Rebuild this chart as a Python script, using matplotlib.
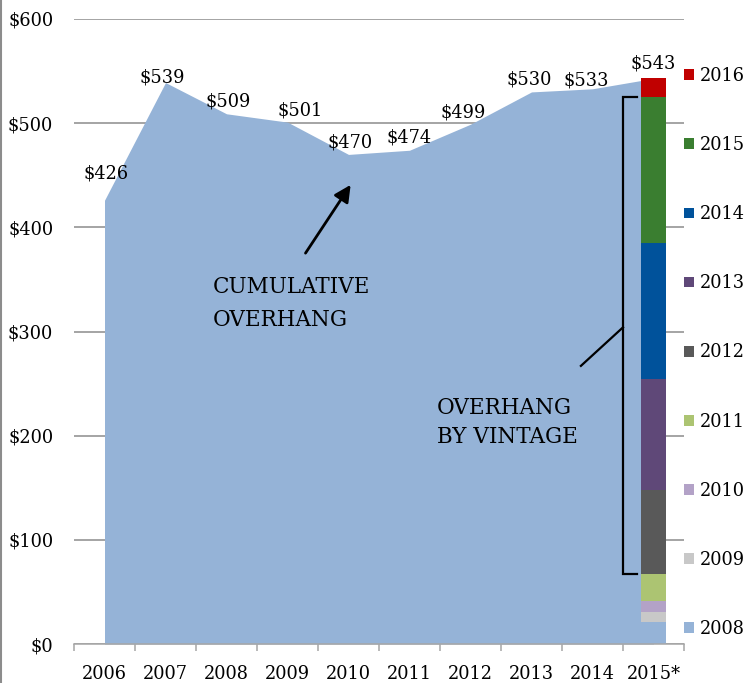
import numpy as np
import matplotlib
matplotlib.use("Agg")
from matplotlib import pyplot as plt
from matplotlib.patches import Patch
from matplotlib.lines import Line2D

years = ['2006', '2007', '2008', '2009', '2010', '2011', '2012', '2013', '2014', '2015*']
overhang = [426, 539, 509, 501, 470, 474, 499, 530, 533, 543]
labels = ['$426', '$539', '$509', '$501', '$470', '$474', '$499', '$530', '$533', '$543']

vintages = ['2008', '2009', '2010', '2011', '2012', '2013', '2014', '2015', '2016']
vintage_vals = [21, 10, 10, 26, 81, 106, 131, 140, 18]
vintage_colors = ['#95B3D7', '#C8C8C8', '#B3A2C7', '#ACC472', '#595959',
                  '#5F4878', '#00529B', '#3A7E30', '#C00000']

# label offsets in pixels (dx, dy) from each point
label_off = [(2, 22), (-3, 0), (2, 7), (13, 7), (2, 7), (0, 8), (-7, 7), (-2, 7), (-6, 3), (0, 10)]

plt.rcParams['font.family'] = 'DejaVu Serif'
fs = 12.8

fig = plt.figure(figsize=(7.5, 6.83), dpi=100)
ax = fig.add_axes([74/750., 39./683, 610/750., 625./683])

x = np.arange(len(years))
ax.fill_between(x, overhang, 0, color='#95B3D7', lw=0, zorder=2)

bottoms = np.concatenate([[0], np.cumsum(vintage_vals)[:-1]])
bars = ax.bar([x[-1]] * len(vintage_vals), vintage_vals, width=0.41, bottom=bottoms,
              color=vintage_colors, lw=0, zorder=3)

for i, (xi, v) in enumerate(zip(x, overhang)):
    top = v if i < len(x) - 1 else sum(vintage_vals)
    ax.annotate(labels[i], (xi, top), xytext=label_off[i], textcoords='offset pixels',
                ha='center', va='baseline', fontsize=fs, zorder=5, annotation_clip=False)

# bracket around 2012-2015 vintages
b_lo = bottoms[4]
b_hi = bottoms[7] + vintage_vals[7]
bx = x[-1] - 0.5
ax.plot([bx + 0.23, bx, bx, bx + 0.23], [b_hi, b_hi, b_lo, b_lo], color='black', lw=1.6,
        zorder=4, solid_joinstyle='miter')
mid = (b_lo + b_hi) / 2. + 8
ax.plot([bx - 0.69, bx], [mid - 37, mid], color='black', lw=1.6, zorder=4)

ax.annotate('', xy=(4.06, 443), xytext=(3.27, 373),
            arrowprops=dict(arrowstyle='-|>,head_length=1.0,head_width=0.5', color='black', lw=2.0),
            zorder=4)

ax.text(1.78, 305, 'CUMULATIVE\nOVERHANG', fontsize=15.5, va='baseline', ha='left',
        linespacing=1.65, zorder=5)
ax.text(5.45, 193, 'OVERHANG\nBY VINTAGE', fontsize=15.5, va='baseline', ha='left',
        linespacing=1.43, zorder=5)

ax.set_xlim(-0.5, len(years) - 0.5)
ax.set_ylim(0, 600)
ax.set_yticks(range(0, 601, 100))
ax.set_yticklabels(['$%d' % v for v in range(0, 601, 100)], fontsize=fs)
ax.set_xticks(x)
ax.set_xticklabels(years, fontsize=fs)
ax.set_xticks(np.arange(-0.5, len(years)), minor=True)
ax.tick_params(axis='x', which='major', length=0, pad=15)
ax.tick_params(axis='x', which='minor', length=5, color='#A6A6A6', width=1.1)
ax.tick_params(axis='y', length=0, pad=15)

for s in ['top', 'right', 'left']:
    ax.spines[s].set_visible(False)
ax.spines['bottom'].set_color('#A6A6A6')
ax.spines['bottom'].set_linewidth(1.1)
ax.spines['bottom'].set_zorder(6)

ax.set_axisbelow(True)
ax.yaxis.grid(True, color='#8C8C8C', lw=1.1, zorder=0)

handles = [Patch(facecolor=c, edgecolor='none') for c in vintage_colors][::-1]
fig.legend(handles, vintages[::-1], loc='upper left', bbox_to_anchor=(684/750., 1 - 67/683.),
           frameon=False, fontsize=fs, handlelength=0.55, handleheight=0.55,
           handletextpad=0.35, labelspacing=2.875, borderpad=0, borderaxespad=0)

fig.add_artist(Line2D([0.001, 0.001], [0, 1], color='#8C8C8C', lw=1.5))

plt.savefig('out.png', dpi=100)
